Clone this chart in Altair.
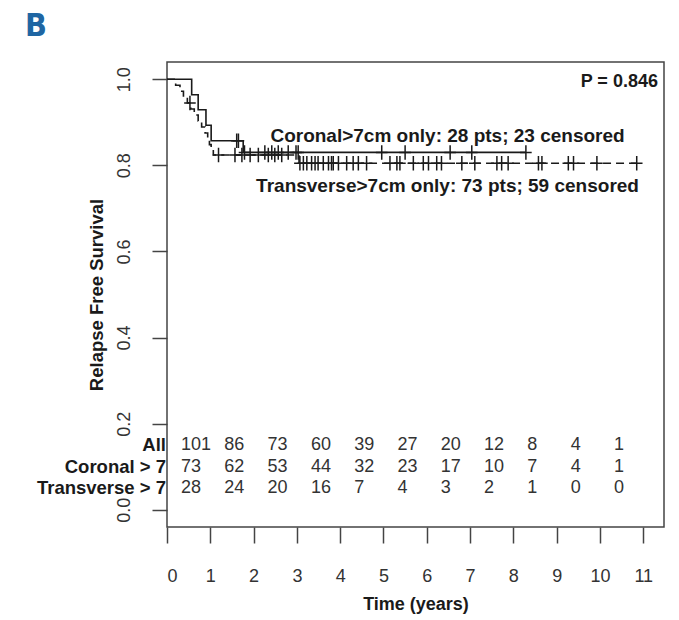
import altair as alt
import pandas as pd

# Kaplan-Meier step coordinates: time (years) and relapse-free survival
coronal_time = [0, 0.20, 0.30, 0.38, 0.47, 0.55, 0.63, 0.72, 0.80, 0.88, 0.94, 0.98, 1.02, 1.07, 3.05, 10.85]
coronal_surv = [1.0, 0.986, 0.972, 0.958, 0.945, 0.931, 0.917, 0.903, 0.889, 0.875, 0.861, 0.848, 0.834, 0.824, 0.805, 0.805]
transverse_time = [0, 0.57, 0.72, 0.90, 1.02, 1.76, 8.29]
transverse_surv = [1.0, 0.964, 0.929, 0.893, 0.857, 0.830, 0.830]

# Censoring times (years)
coronal_censor = [0.53, 1.19, 1.57, 1.73, 1.92, 2.11, 2.34, 2.49, 2.65, 3.07, 3.15, 3.23, 3.34,
                  3.42, 3.49, 3.61, 3.73, 3.80, 3.84, 3.96, 4.15, 4.30, 4.42, 4.61, 5.15, 5.31,
                  5.38, 5.69, 5.92, 6.04, 6.23, 6.34, 6.81, 7.11, 7.62, 7.73, 7.88, 8.58, 8.66,
                  9.27, 9.39, 9.93, 10.85]
transverse_censor = [1.61, 1.65, 1.79, 2.26, 2.42, 2.57, 2.80, 2.98, 3.03, 4.96, 5.50, 6.54, 7.04, 8.29]

# Numbers at risk
risk_times = list(range(11))
risk_all = [101, 86, 73, 60, 39, 27, 20, 12, 8, 4, 1]
risk_coronal = [73, 62, 53, 44, 32, 23, 17, 10, 7, 4, 1]
risk_transverse = [28, 24, 20, 16, 7, 4, 3, 2, 1, 0, 0]
risk_labels = ["All", "Coronal > 7", "Transverse > 7"]
risk_rows = [0.15, 0.10, 0.05]

annotations = [
    ("P = 0.846", 11.34, 0.994, "right", 18),
    ("Coronal>7cm only: 28 pts; 23 censored", 6.48, 0.868, "center", 19),
    ("Transverse>7cm only: 73 pts; 59 censored", 6.48, 0.752, "center", 19),
]

FONT = "Liberation Sans"
INK = "#1a1a1a"


def step_value(times, survs, t):
    val = survs[0]
    for ti, si in zip(times, survs):
        if ti <= t:
            val = si
    return val


coronal_df = pd.DataFrame({"time": coronal_time, "surv": coronal_surv})
transverse_df = pd.DataFrame({"time": transverse_time, "surv": transverse_surv})
censor_df = pd.DataFrame(
    [{"time": t, "surv": step_value(coronal_time, coronal_surv, t)} for t in coronal_censor]
    + [{"time": t, "surv": step_value(transverse_time, transverse_surv, t)} for t in transverse_censor]
)

risk_records = []
for label, row, values in zip(risk_labels, risk_rows, [risk_all, risk_coronal, risk_transverse]):
    for t, n in zip(risk_times, values):
        risk_records.append({"time": t, "surv": row, "n": str(n)})
risk_df = pd.DataFrame(risk_records)
row_df = pd.DataFrame({"label": risk_labels, "surv": risk_rows, "time": [0] * 3})

x_scale = alt.Scale(domain=[0, 11.48], nice=False, zero=False)
y_scale = alt.Scale(domain=[-0.04, 1.04], nice=False, zero=False)

x_axis = alt.Axis(
    values=list(range(12)), domain=False, grid=False,
    tickSize=16, tickWidth=1.5, tickColor="#444",
    labelFont=FONT, labelFontSize=18, labelColor="#333", labelPadding=24,
    title="Time (years)", titleFont=FONT, titleFontSize=18, titleFontWeight="bold",
    titleColor=INK, titleBaseline="alphabetic", titleY=82,
)
y_axis = alt.Axis(
    values=[0, 0.2, 0.4, 0.6, 0.8, 1.0], format=".1f", domain=False, grid=False,
    tickSize=15, tickWidth=1.5, tickColor="#444",
    labelFont=FONT, labelFontSize=18, labelColor="#333", labelPadding=19,
    labelAngle=270, labelAlign="center", labelBaseline="bottom",
    title="Relapse Free Survival", titleFont=FONT, titleFontSize=18.5, titleFontWeight="bold",
    titleColor=INK, titleAngle=270, titleBaseline="middle", titleAlign="center",
    titleX=-71, titleY=232.5,
)

X = alt.X("time:Q", scale=x_scale, axis=x_axis, title="Time (years)")
Y = alt.Y("surv:Q", scale=y_scale, axis=y_axis, title="Relapse Free Survival")

coronal_line = alt.Chart(coronal_df).mark_line(
    interpolate="step-after", color=INK, strokeWidth=1.6, strokeDash=[8, 5]
).encode(x=X, y=Y)

transverse_line = alt.Chart(transverse_df).mark_line(
    interpolate="step-after", color=INK, strokeWidth=1.6
).encode(x=X, y=Y)

censor_marks = alt.Chart(censor_df).mark_point(
    shape="M0,-1L0,1M-0.8,0L0.8,0", filled=False, stroke=INK, strokeWidth=1.5,
    size=210, opacity=1,
).encode(x=X, y=Y)

risk_numbers = alt.Chart(risk_df).mark_text(
    align="left", baseline="middle", dx=14, font=FONT, fontSize=18, color="#333"
).encode(x=X, y=Y, text="n:N")

risk_names = alt.Chart(row_df).mark_text(
    align="right", baseline="middle", dx=-1, font=FONT, fontSize=18.5,
    fontWeight="bold", color=INK,
).encode(x=X, y=Y, text="label:N")

note_layers = []
for text, tx, ty, align, size in annotations:
    note_df = pd.DataFrame({"time": [tx], "surv": [ty], "text": [text]})
    note_layers.append(
        alt.Chart(note_df).mark_text(
            align=align, baseline="middle", font=FONT, fontSize=size,
            fontWeight="bold", color=INK,
        ).encode(x=X, y=Y, text="text:N")
    )

panel_letter = alt.Chart(pd.DataFrame({"label": ["B"]})).mark_text(
    align="left", baseline="alphabetic",
    font="Liberation Sans Narrow, DejaVu Sans Condensed, Liberation Sans",
    fontSize=32, fontWeight="bold", color="#1f66a3",
).encode(
    x=alt.value(-142), y=alt.value(-26), text="label:N",
)

chart = alt.layer(
    coronal_line, transverse_line, censor_marks, risk_numbers, risk_names,
    *note_layers, panel_letter,
).properties(
    width=497, height=465,
    padding={"left": 167, "top": 62, "right": 15, "bottom": 93},
    autosize=alt.AutoSizeParams(type="none"),
    background="white",
).configure_view(
    stroke="#444", strokeWidth=1.5,
)

chart.save("out.html", embed_options={"renderer": "svg", "actions": False})
